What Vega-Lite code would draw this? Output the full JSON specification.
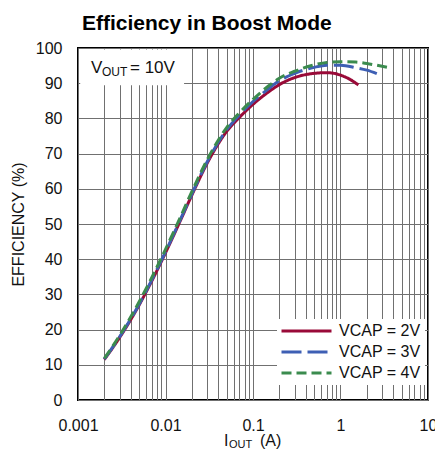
{
  "$schema": "https://vega.github.io/schema/vega-lite/v6.json",
  "autosize": {"type": "none"},
  "padding": {"left": 78, "top": 48, "right": 7, "bottom": 69},
  "width": 350,
  "height": 352,
  "background": "white",
  "title": {"text": "Efficiency in Boost Mode", "anchor": "start", "frame": "group", "dx": 4, "fontSize": 21, "font": "Liberation Sans", "fontWeight": "bold", "color": "black", "offset": 6},
  "config": {
    "view": {"stroke": "black", "strokeWidth": 2},
    "axis": {"labelFont": "Liberation Sans", "titleFont": "Liberation Sans", "labelColor": "#111", "titleColor": "#111", "gridColor": "#707070", "gridWidth": 1, "gridOpacity": 1, "ticks": false, "tickSize": 0, "domain": false, "labelOverlap": false},
    "legend": {"orient": "none", "legendX": 199, "legendY": 271, "fillColor": "white", "padding": 4, "symbolType": "M-1.5,0H8.5", "symbolSize": 100, "symbolStrokeWidth": 3, "labelFontSize": 16, "labelFont": "Liberation Sans", "labelColor": "#111", "rowPadding": 5, "labelOffset": 42, "title": null}
  },
  "data": {"values": [
    {"series": "VCAP = 2V", "iout": 0.002, "eff": 11.5},
    {"series": "VCAP = 2V", "iout": 0.003, "eff": 17.8},
    {"series": "VCAP = 2V", "iout": 0.004, "eff": 22.8},
    {"series": "VCAP = 2V", "iout": 0.005, "eff": 27.0},
    {"series": "VCAP = 2V", "iout": 0.007, "eff": 33.9},
    {"series": "VCAP = 2V", "iout": 0.01, "eff": 41.8},
    {"series": "VCAP = 2V", "iout": 0.015, "eff": 51.3},
    {"series": "VCAP = 2V", "iout": 0.02, "eff": 58.2},
    {"series": "VCAP = 2V", "iout": 0.03, "eff": 67.3},
    {"series": "VCAP = 2V", "iout": 0.05, "eff": 76.3},
    {"series": "VCAP = 2V", "iout": 0.07, "eff": 80.3},
    {"series": "VCAP = 2V", "iout": 0.1, "eff": 84.0},
    {"series": "VCAP = 2V", "iout": 0.15, "eff": 87.5},
    {"series": "VCAP = 2V", "iout": 0.2, "eff": 89.6},
    {"series": "VCAP = 2V", "iout": 0.3, "eff": 91.6},
    {"series": "VCAP = 2V", "iout": 0.5, "eff": 92.8},
    {"series": "VCAP = 2V", "iout": 0.7, "eff": 93.0},
    {"series": "VCAP = 2V", "iout": 1.0, "eff": 92.3},
    {"series": "VCAP = 2V", "iout": 1.3, "eff": 91.0},
    {"series": "VCAP = 2V", "iout": 1.6, "eff": 89.5},
    {"series": "VCAP = 3V", "iout": 0.002, "eff": 11.6},
    {"series": "VCAP = 3V", "iout": 0.003, "eff": 18.0},
    {"series": "VCAP = 3V", "iout": 0.004, "eff": 23.0},
    {"series": "VCAP = 3V", "iout": 0.005, "eff": 27.2},
    {"series": "VCAP = 3V", "iout": 0.007, "eff": 34.2},
    {"series": "VCAP = 3V", "iout": 0.01, "eff": 42.1},
    {"series": "VCAP = 3V", "iout": 0.015, "eff": 51.6},
    {"series": "VCAP = 3V", "iout": 0.02, "eff": 58.5},
    {"series": "VCAP = 3V", "iout": 0.03, "eff": 67.7},
    {"series": "VCAP = 3V", "iout": 0.05, "eff": 76.8},
    {"series": "VCAP = 3V", "iout": 0.07, "eff": 81.0},
    {"series": "VCAP = 3V", "iout": 0.1, "eff": 84.8},
    {"series": "VCAP = 3V", "iout": 0.15, "eff": 88.4},
    {"series": "VCAP = 3V", "iout": 0.2, "eff": 90.7},
    {"series": "VCAP = 3V", "iout": 0.3, "eff": 92.8},
    {"series": "VCAP = 3V", "iout": 0.5, "eff": 94.5},
    {"series": "VCAP = 3V", "iout": 0.7, "eff": 95.1},
    {"series": "VCAP = 3V", "iout": 1.0, "eff": 95.1},
    {"series": "VCAP = 3V", "iout": 1.5, "eff": 94.4},
    {"series": "VCAP = 3V", "iout": 2.0, "eff": 93.7},
    {"series": "VCAP = 3V", "iout": 2.6, "eff": 92.7},
    {"series": "VCAP = 4V", "iout": 0.002, "eff": 11.8},
    {"series": "VCAP = 4V", "iout": 0.003, "eff": 18.4},
    {"series": "VCAP = 4V", "iout": 0.004, "eff": 23.6},
    {"series": "VCAP = 4V", "iout": 0.005, "eff": 27.9},
    {"series": "VCAP = 4V", "iout": 0.007, "eff": 34.9},
    {"series": "VCAP = 4V", "iout": 0.01, "eff": 42.8},
    {"series": "VCAP = 4V", "iout": 0.015, "eff": 52.3},
    {"series": "VCAP = 4V", "iout": 0.02, "eff": 59.2},
    {"series": "VCAP = 4V", "iout": 0.03, "eff": 68.3},
    {"series": "VCAP = 4V", "iout": 0.05, "eff": 77.4},
    {"series": "VCAP = 4V", "iout": 0.07, "eff": 81.6},
    {"series": "VCAP = 4V", "iout": 0.1, "eff": 85.4},
    {"series": "VCAP = 4V", "iout": 0.15, "eff": 89.2},
    {"series": "VCAP = 4V", "iout": 0.2, "eff": 91.4},
    {"series": "VCAP = 4V", "iout": 0.3, "eff": 93.4},
    {"series": "VCAP = 4V", "iout": 0.5, "eff": 95.2},
    {"series": "VCAP = 4V", "iout": 0.7, "eff": 95.9},
    {"series": "VCAP = 4V", "iout": 1.0, "eff": 96.1},
    {"series": "VCAP = 4V", "iout": 1.5, "eff": 96.0},
    {"series": "VCAP = 4V", "iout": 2.0, "eff": 95.6},
    {"series": "VCAP = 4V", "iout": 2.6, "eff": 95.1},
    {"series": "VCAP = 4V", "iout": 3.8, "eff": 94.3}
  ]},
  "layer": [
    {
      "mark": {"type": "line", "strokeWidth": 3, "interpolate": "monotone"},
      "encoding": {
        "x": {"field": "iout", "type": "quantitative", "scale": {"type": "log", "domain": [0.001, 10], "nice": false},
          "axis": {"values": [0.001,0.002,0.003,0.004,0.005,0.006,0.007,0.008,0.009,0.01,0.02,0.03,0.04,0.05,0.06,0.07,0.08,0.09,0.1,0.2,0.3,0.4,0.5,0.6,0.7,0.8,0.9,1,2,3,4,5,6,7,8,9,10],
            "tickCount": 100,
            "labelExpr": "indexof([0.001,0.01,0.1,1,10], datum.value) >= 0 ? format(datum.value, '~g') : ''",
            "labelOverlap": false, "labelFlush": false, "labelPadding": 25, "labelFontSize": 16, "labelBaseline": "middle", "title": null}},
        "y": {"field": "eff", "type": "quantitative", "scale": {"domain": [0, 100], "nice": false},
          "axis": {"values": [0,10,20,30,40,50,60,70,80,90,100], "tickCount": 50, "labelOverlap": false, "labelFlush": false, "labelPadding": 16, "labelFontSize": 16, "title": "EFFICIENCY (%)", "titleFontSize": 16, "titleFontWeight": "normal", "titlePadding": 9}},
        "color": {"field": "series", "type": "nominal", "scale": {"domain": ["VCAP = 2V", "VCAP = 3V", "VCAP = 4V"], "range": ["#990A38", "#3E5FB4", "#3B8B4E"]}},
        "strokeDash": {"field": "series", "type": "nominal", "scale": {"domain": ["VCAP = 2V", "VCAP = 3V", "VCAP = 4V"], "range": [[1, 0], [20, 6], [10, 5]]}}
      }
    },
    {
      "data": {"values": [{}]},
      "mark": {"type": "rect", "fill": "white"},
      "encoding": {
        "x": {"datum": 0.00106},
        "x2": {"datum": 0.0163},
        "y": {"datum": 89.4},
        "y2": {"datum": 99.6}
      }
    },
    {
      "data": {"values": [{}]},
      "mark": {"type": "text", "align": "left", "baseline": "middle", "fontSize": 17, "font": "Liberation Sans", "color": "#111", "dx": 13, "dy": 20, "text": "V"},
      "encoding": {"x": {"datum": 0.001}, "y": {"datum": 100}}
    },
    {
      "data": {"values": [{}]},
      "mark": {"type": "text", "align": "left", "baseline": "middle", "fontSize": 12, "font": "Liberation Sans", "color": "#111", "dx": 24, "dy": 24, "text": "OUT"},
      "encoding": {"x": {"datum": 0.001}, "y": {"datum": 100}}
    },
    {
      "data": {"values": [{}]},
      "mark": {"type": "text", "align": "left", "baseline": "middle", "fontSize": 17, "font": "Liberation Sans", "color": "#111", "dx": 52, "dy": 20, "text": "= 10V"},
      "encoding": {"x": {"datum": 0.001}, "y": {"datum": 100}}
    },
    {
      "data": {"values": [{}]},
      "mark": {"type": "text", "align": "left", "baseline": "middle", "fontSize": 16, "font": "Liberation Sans", "color": "#111", "dx": -29, "dy": 41, "text": "I"},
      "encoding": {"x": {"datum": 0.1}, "y": {"datum": 0}}
    },
    {
      "data": {"values": [{}]},
      "mark": {"type": "text", "align": "left", "baseline": "middle", "fontSize": 11, "font": "Liberation Sans", "color": "#111", "dx": -24, "dy": 45, "text": "OUT"},
      "encoding": {"x": {"datum": 0.1}, "y": {"datum": 0}}
    },
    {
      "data": {"values": [{}]},
      "mark": {"type": "text", "align": "left", "baseline": "middle", "fontSize": 16, "font": "Liberation Sans", "color": "#111", "dx": 7, "dy": 41, "text": "(A)"},
      "encoding": {"x": {"datum": 0.1}, "y": {"datum": 0}}
    }
  ]
}
